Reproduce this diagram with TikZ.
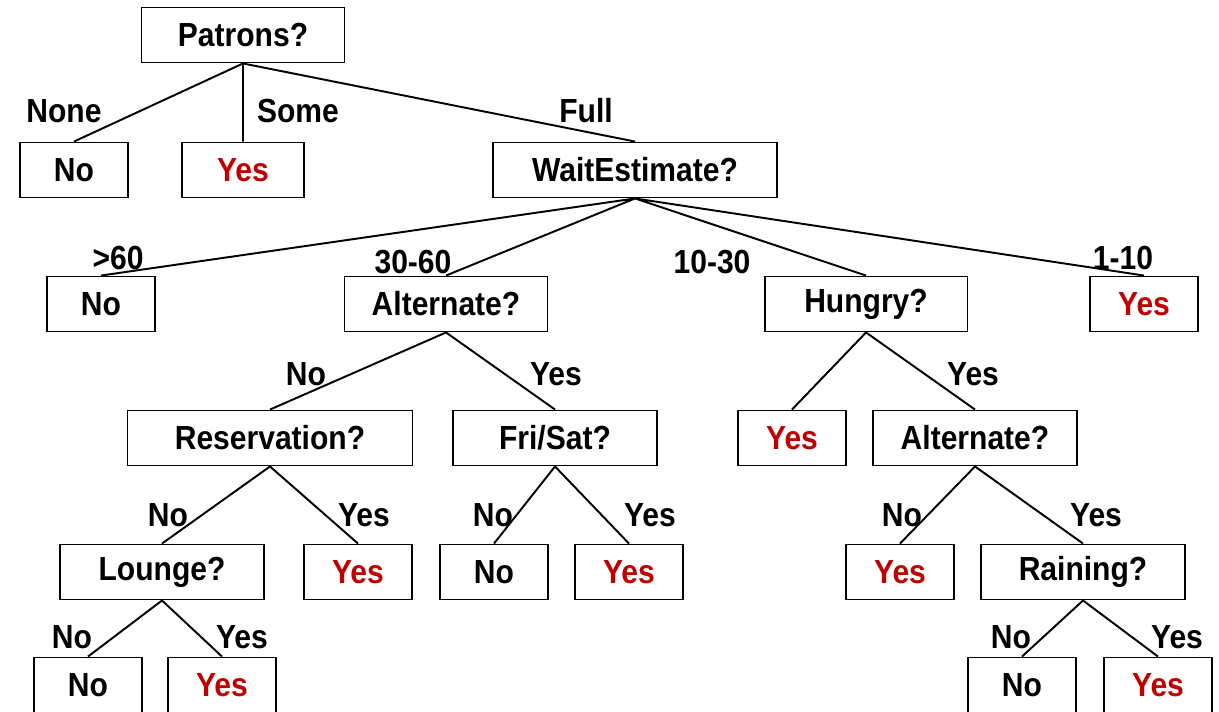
\documentclass[tikz,border=0pt]{standalone}
\usepackage{fontspec}
\setmainfont{Liberation Sans}[FakeStretch=0.9]
\definecolor{yesred}{RGB}{192,0,0}

\begin{document}
\begin{tikzpicture}[x=0.02cm,y=-0.02cm,
  every node/.style={font=\fontsize{19}{22}\selectfont\bfseries,inner sep=0pt},
  test/.style={draw,line width=1.1pt,minimum height=1.1cm},
  leafbox/.style={test,minimum width=2.16cm},
  yesbox/.style={leafbox,text=yesred},
  lbl/.style={}
]
\useasboundingbox (0,0) rectangle (1219,711);

% tests
\node[test,minimum width=4.06cm] (pat) at (243,35) {Patrons?};
\node[test,minimum width=5.68cm] (wait) at (635,170) {WaitEstimate?};
\node[test,minimum width=4.06cm] (alt) at (446,304) {Alternate?};
\node[test,minimum width=4.06cm] (hun) at (866,304) {Hungry?};
\node[test,minimum width=5.70cm] (res) at (270,438) {Reservation?};
\node[test,minimum width=4.08cm] (fri) at (555,438) {Fri/Sat?};
\node[test,minimum width=4.08cm] (alt2) at (975,438) {Alternate?};
\node[test,minimum width=4.08cm] (lou) at (162,572) {Lounge?};
\node[test,minimum width=4.08cm] (rain) at (1083,572) {Raining?};

% leaves
\node[leafbox] (l1) at (74,170) {No};
\node[yesbox,minimum width=2.44cm] (l2) at (243,170) {Yes};
\node[leafbox] (l3) at (101,304) {No};
\node[yesbox] (l4) at (1144,304) {Yes};
\node[yesbox] (l5) at (792,438) {Yes};
\node[yesbox] (l6) at (358,572) {Yes};
\node[leafbox] (l7) at (494,572) {No};
\node[yesbox] (l8) at (629,572) {Yes};
\node[yesbox] (l9) at (900,572) {Yes};
\node[leafbox] (l10) at (88,685) {No};
\node[yesbox] (l11) at (222,685) {Yes};
\node[leafbox] (l12) at (1022,685) {No};
\node[yesbox] (l13) at (1158,685) {Yes};

% branches
\draw[line width=1.1pt]
  (pat.south) -- (l1.north)  (pat.south) -- (l2.north)  (pat.south) -- (wait.north)
  (wait.south) -- (l3.north) (wait.south) -- (alt.north)
  (wait.south) -- (hun.north) (wait.south) -- (l4.north)
  (alt.south) -- (res.north) (alt.south) -- (fri.north)
  (hun.south) -- (l5.north)  (hun.south) -- (alt2.north)
  (res.south) -- (lou.north) (res.south) -- (l6.north)
  (fri.south) -- (l7.north)  (fri.south) -- (l8.north)
  (alt2.south) -- (l9.north) (alt2.south) -- (rain.north)
  (lou.south) -- (l10.north) (lou.south) -- (l11.north)
  (rain.south) -- (l12.north) (rain.south) -- (l13.north);

% branch labels
\node[lbl] (b1) at (64,111) {None};
\node[lbl] (b2) at (298,111) {Some};
\node[lbl] (b3) at (586,111) {Full};
\node[lbl] (b4) at (118,258) {>60};
\node[lbl] (b5) at (413,262) {30-60};
\node[lbl] (b6) at (712,262) {10-30};
\node[lbl] (b7) at (1123,258) {1-10};
\node[lbl] (b8) at (306,374) {No};
\node[lbl] (b9) at (556,374) {Yes};
\node[lbl] (b10) at (973,374) {Yes};
\node[lbl] (b11) at (168,515) {No};
\node[lbl] (b12) at (364,515) {Yes};
\node[lbl] (b13) at (493,515) {No};
\node[lbl] (b14) at (650,515) {Yes};
\node[lbl] (b15) at (902,515) {No};
\node[lbl] (b16) at (1096,515) {Yes};
\node[lbl] (b17) at (72,637) {No};
\node[lbl] (b18) at (242,637) {Yes};
\node[lbl] (b19) at (1011,637) {No};
\node[lbl] (b20) at (1177,637) {Yes};

\end{tikzpicture}
\end{document}
